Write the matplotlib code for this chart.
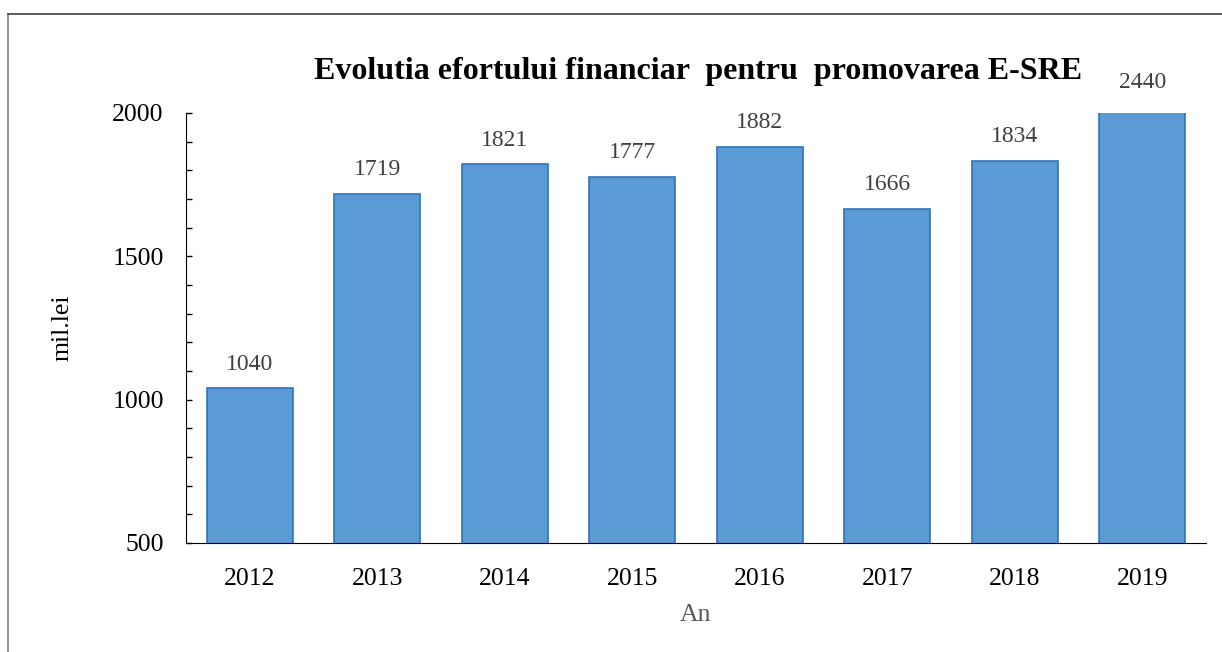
import matplotlib
matplotlib.use("Agg")
import matplotlib.pyplot as plt
from matplotlib.ticker import MultipleLocator
from matplotlib.lines import Line2D

years = ["2012", "2013", "2014", "2015", "2016", "2017", "2018", "2019"]
values = [1040, 1719, 1821, 1777, 1882, 1666, 1834, 2440]

plt.rcParams["font.family"] = ["Liberation Serif", "DejaVu Serif"]

fig = plt.figure(figsize=(12.22, 6.52), dpi=100)
ax = fig.add_axes([0.1522, 0.1672, 0.8347, 0.6595])

x = range(len(years))
ax.bar(x, values, width=0.675, color="#5B9BD5", edgecolor="#2E75B6", linewidth=1.2, zorder=2)

ymin, ymax = 500, 2000
ax.set_ylim(ymin, ymax)
ax.set_xlim(-0.5, len(years) - 0.5)

# value labels; the 2019 bar is cut at the axis top, its label sits above it
for xi, v in zip(x, values):
    top = min(v, ymax)
    off = 30 if v > ymax else 24
    ax.annotate(str(v), (xi, top), xytext=(0, off), textcoords="offset pixels",
                ha="center", va="center", fontsize=17, color="#404040",
                annotation_clip=False)

ax.set_xticks(list(x))
ax.set_xticklabels(years, fontsize=18.5)
ax.tick_params(axis="x", length=0, pad=18)
ax.yaxis.set_major_locator(MultipleLocator(500))
ax.yaxis.set_minor_locator(MultipleLocator(100))
ax.tick_params(axis="y", which="both", direction="in", length=4.5, width=1, labelsize=18.5, pad=16)

for s in ("top", "right"):
    ax.spines[s].set_visible(False)
ax.spines["left"].set_color("black")
ax.spines["bottom"].set_color("black")

ax.set_ylabel("mil.lei", fontsize=18.5)
ax.yaxis.set_label_coords(-0.110, 0.5)
ax.set_xlabel("An", fontsize=18.5, color="#595959", labelpad=10)

fig.text(0.571, 0.89, "Evolutia efortului financiar  pentru  promovarea E-SRE",
         ha="center", va="center", fontsize=23, fontweight="bold")

# frame of the chart area
bx, by = 8 / 1222, 1 - 14 / 652
fig.add_artist(Line2D([bx, bx], [0, by], transform=fig.transFigure, color="#808080", lw=1.2))
fig.add_artist(Line2D([bx, 1], [by, by], transform=fig.transFigure, color="#404040", lw=1.2))

fig.savefig("out.png", dpi=100)
